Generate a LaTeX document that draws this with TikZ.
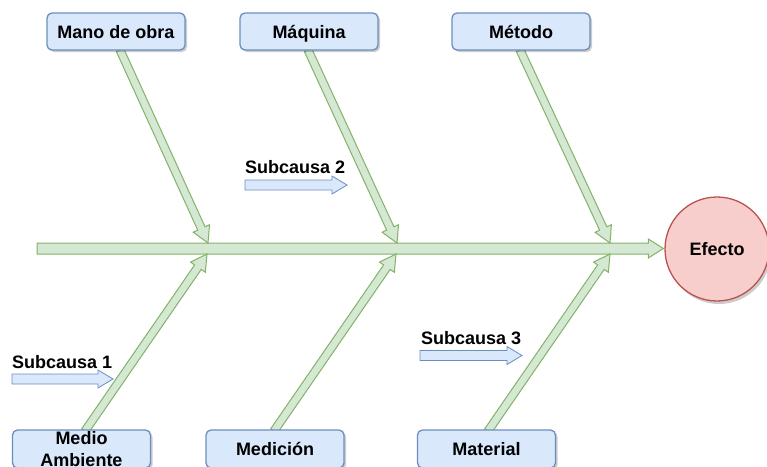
\documentclass[tikz,border=0pt]{standalone}
\usepackage{fontspec}
\setmainfont{Liberation Sans}
\usetikzlibrary{calc,shadows}
\definecolor{bfill}{HTML}{DAE8FC}
\definecolor{bline}{HTML}{6C8EBF}
\definecolor{gfill}{HTML}{D5E8D4}
\definecolor{gline}{HTML}{82B366}
\definecolor{rfill}{HTML}{F8CECC}
\definecolor{rline}{HTML}{B85450}
% #1 style, #2 start, #3 tip, #4 body half width, #5 head half width, #6 head length
\newcommand{\blockarrow}[6]{%
  \path ($(#3)!#6!(#2)$) coordinate (ba-c);
  \draw[#1] ($(#2)!#4!90:(#3)$) -- ($(ba-c)!#4!90:(#3)$) -- ($(ba-c)!#5!90:(#3)$)
    -- (#3) -- ($(ba-c)!#5!-90:(#3)$) -- ($(ba-c)!#4!-90:(#3)$) -- ($(#2)!#4!-90:(#3)$) -- cycle;
}
\tikzset{
  txt/.style={font=\fontsize{18}{22}\selectfont\bfseries},
  causebox/.style={txt, rectangle, rounded corners=5pt, draw=bline, fill=bfill, line width=1.3pt,
    minimum width=138pt, minimum height=37pt, inner sep=0pt, align=center,
    drop shadow={shadow xshift=2pt, shadow yshift=-2pt, opacity=0.2, fill=black}},
  oneline/.style={text height=13pt, text depth=0pt},
  effectnode/.style={txt, circle, draw=rline, fill=rfill, line width=1.3pt, minimum size=104pt, inner sep=0pt,
    text height=13pt, text depth=0pt,
    drop shadow={shadow xshift=2pt, shadow yshift=-3pt, opacity=0.2, fill=black}},
  bone/.style={draw=gline, fill=gfill, line width=1pt, line join=miter},
  subarrow/.style={draw=bline, fill=bfill, line width=0.8pt, line join=miter},
  sublabel/.style={txt, anchor=base west, inner sep=0pt},
}
\begin{document}
\begin{tikzpicture}[x=1pt, y=-1pt]
\useasboundingbox (0,0) rectangle (767,466);
\clip (0,0) rectangle (767,466);

% effect
\node[effectnode] (efecto) at (717,249) {Efecto};

% spine
\coordinate (spineS) at (37,248.5);
\coordinate (spineE) at ($(efecto.west)+(-1,-0.5)$);
\blockarrow{bone}{spineS}{spineE}{5.5pt}{9.5pt}{15pt}

% bone end points on the spine
\coordinate (t1) at (208,243);
\coordinate (t2) at (397,243);
\coordinate (t3) at (610,243);
\coordinate (b1) at (207,254);
\coordinate (b2) at (396,254);
\coordinate (b3) at (610,254);

% bone starts at the boxes
\coordinate (s1) at (120,50);
\coordinate (s2) at (308,50);
\coordinate (s3) at (520,50);
\coordinate (u1) at (85,431);
\coordinate (u2) at (274,431);
\coordinate (u3) at (488,431);

\blockarrow{bone}{s1}{t1}{4pt}{9pt}{16pt}
\blockarrow{bone}{s2}{t2}{4pt}{9pt}{16pt}
\blockarrow{bone}{s3}{t3}{4pt}{9pt}{16pt}
\blockarrow{bone}{u1}{b1}{4pt}{9pt}{16pt}
\blockarrow{bone}{u2}{b2}{4pt}{9pt}{16pt}
\blockarrow{bone}{u3}{b3}{4pt}{9pt}{16pt}

% cause boxes
\node[causebox, oneline] (mano) at (116,31.5) {Mano de obra};
\node[causebox, oneline] (maquina) at (309,31.5) {Máquina};
\node[causebox, oneline] (metodo) at (521,31.5) {Método};
\node[causebox, minimum height=38pt] (medio) at (81.5,449) {Medio\\Ambiente};
\node[causebox, oneline, minimum height=38pt] (medicion) at (275,449) {Medición};
\node[causebox, oneline, minimum height=38pt] (material) at (486.5,449) {Material};

% sub-causes
\node[sublabel] (sc1) at (12,368) {Subcausa 1};
\node[sublabel] (sc2) at (245,173) {Subcausa 2};
\node[sublabel] (sc3) at (421,344) {Subcausa 3};

\coordinate (a1s) at (12,379);
\coordinate (a1e) at (113,379);
\coordinate (a2s) at (245,185);
\coordinate (a2e) at (347,185);
\coordinate (a3s) at (420,355.5);
\coordinate (a3e) at (522,355.5);
\blockarrow{subarrow}{a1s}{a1e}{5pt}{9pt}{15pt}
\blockarrow{subarrow}{a2s}{a2e}{5pt}{9pt}{15pt}
\blockarrow{subarrow}{a3s}{a3e}{5pt}{9pt}{15pt}
\end{tikzpicture}
\end{document}
